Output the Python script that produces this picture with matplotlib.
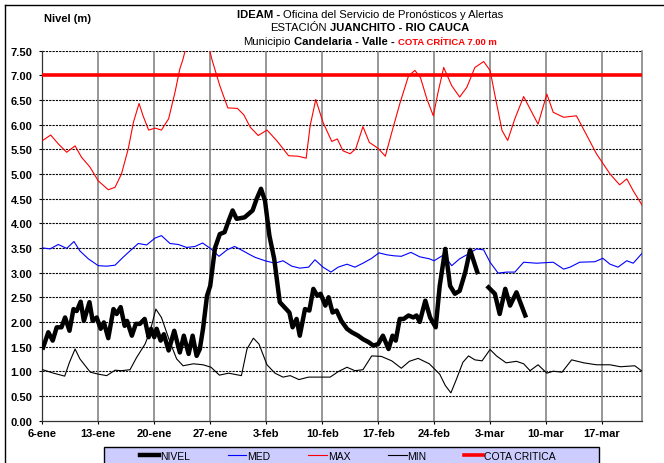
"""
Hydrograph of the Juanchito station (Rio Cauca) - IDEAM bulletin style.
Levels by day, counted from 6-ene.
"""
import matplotlib
matplotlib.use("Agg")

import matplotlib.pyplot as plt
from matplotlib.lines import Line2D
from matplotlib.patches import Rectangle

plt.rcParams["font.family"] = ["Liberation Sans", "DejaVu Sans"]

# ───────────────────────── Data (day 0 = 6-ene) ────────────────────────────
TICK_DAYS = [0, 7, 14, 21, 28, 35, 42, 49, 56, 63, 70]
TICK_LABELS = ["6-ene", "13-ene", "20-ene", "27-ene", "3-feb", "10-feb",
               "17-feb", "24-feb", "3-mar", "10-mar", "17-mar"]

NIVEL_A_DAY = [0.1, 0.75, 1.3, 1.8, 2.4, 2.85, 3.4, 3.9, 4.3, 4.8, 5.2, 5.9,
               6.3, 6.8, 7.3, 7.7, 8.25, 8.9, 9.3, 9.8, 10.3, 10.6, 11.2,
               11.7, 12.2, 12.8, 13.3, 13.6, 14.0, 14.3, 14.8, 15.2, 15.8,
               16.5, 17.2, 17.7, 18.3, 18.8, 19.3, 19.7, 20.1, 20.6, 21.0,
               21.6, 22.2, 22.8, 23.3, 23.8, 24.3, 25.3, 26.3, 26.8, 27.35,
               27.85, 28.4, 29.0, 29.7, 30.5, 30.9, 31.3, 31.8, 32.2, 32.85,
               33.4, 33.9, 34.4, 34.8, 35.4, 35.8, 36.3, 36.8, 37.4, 38.1,
               38.7, 39.5, 40.1, 40.8, 41.4, 42.0, 42.6, 43.3, 43.8, 44.2,
               44.7, 45.2, 45.8, 46.4, 46.8, 47.2, 47.9, 48.5, 49.2, 49.7,
               50.4, 51.0, 51.6, 52.2, 52.9, 53.5, 54.0, 54.4]
NIVEL_A_VAL = [1.48, 1.79, 1.62, 1.89, 1.89, 2.09, 1.82, 2.26, 2.22, 2.41,
               2.02, 2.40, 2.02, 2.09, 1.86, 1.99, 1.67, 2.26, 2.16, 2.30,
               1.92, 2.02, 1.72, 1.96, 1.96, 2.06, 1.69, 1.86, 1.69, 1.86,
               1.62, 1.75, 1.42, 1.82, 1.38, 1.72, 1.35, 1.72, 1.31, 1.45,
               1.86, 2.53, 2.73, 3.50, 3.78, 3.82, 4.05, 4.26, 4.09, 4.12,
               4.26, 4.49, 4.70, 4.46, 3.75, 3.28, 2.40, 2.26, 2.19, 1.89,
               2.06, 1.72, 2.26, 2.23, 2.67, 2.53, 2.57, 2.33, 2.50, 2.19,
               2.23, 2.02, 1.86, 1.79, 1.72, 1.65, 1.59, 1.52, 1.55, 1.72,
               1.45, 1.72, 1.62, 2.06, 2.06, 2.13, 2.09, 2.13, 2.00, 2.43,
               2.09, 1.89, 2.73, 3.48, 2.73, 2.57, 2.63, 3.01, 3.46, 3.21,
               3.01]
NIVEL_B_DAY = [55.8, 56.6, 57.2, 57.9, 58.5, 59.3, 60.4]
NIVEL_B_VAL = [2.70, 2.57, 2.16, 2.67, 2.33, 2.60, 2.13]

MED_DAY = [0.05, 0.97, 2.0, 3.05, 3.96, 4.7, 5.75, 7.0, 8.05, 9.1, 10.1,
           10.97, 12.0, 13.05, 14.1, 14.9, 15.97, 17.0, 18.05, 19.1, 20.05,
           21.1, 22.1, 23.1, 24.05, 25.0, 26.0, 26.6, 27.85, 29.1, 30.1,
           31.2, 32.2, 33.3, 34.1, 35.1, 36.1, 37.0, 38.1, 39.1, 40.1, 41.2,
           42.1, 43.1, 44.0, 44.9, 46.1, 47.2, 48.4, 49.0, 50.2, 51.2, 52.2,
           53.3, 54.3, 55.2, 56.0, 57.0, 58.1, 59.1, 60.2, 61.8, 63.9, 65.2,
           66.0, 67.2, 69.1, 70.1, 71.0, 72.0, 73.1, 73.9, 75.0]
MED_VAL = [3.50, 3.48, 3.57, 3.49, 3.63, 3.44, 3.28, 3.14, 3.13, 3.15, 3.31,
           3.44, 3.59, 3.56, 3.70, 3.75, 3.59, 3.57, 3.51, 3.53, 3.60, 3.48,
           3.33, 3.46, 3.53, 3.45, 3.36, 3.31, 3.24, 3.19, 3.24, 3.13, 3.09,
           3.11, 3.26, 3.11, 3.01, 3.11, 3.17, 3.11, 3.19, 3.29, 3.40, 3.36,
           3.34, 3.33, 3.41, 3.32, 3.28, 3.24, 3.36, 3.14, 3.28, 3.38, 3.48,
           3.46, 3.21, 2.99, 3.01, 3.01, 3.21, 3.19, 3.21, 3.07, 3.11, 3.21,
           3.22, 3.29, 3.17, 3.11, 3.24, 3.19, 3.39]

MAX_DAY = [0.05, 1.05, 2.0, 3.05, 4.1, 4.9, 5.96, 7.0, 8.25, 9.1, 9.9, 10.75,
           11.4, 12.1, 12.6, 13.3, 14.1, 14.9, 15.8, 16.6, 17.2, 17.6, 18.5,
           19.5, 20.5, 21.2, 22.2, 23.2, 24.4, 25.2, 26.0, 27.0, 28.1, 29.3,
           30.8, 32.0, 33.0, 33.5, 34.2, 35.1, 36.2, 36.9, 37.6, 38.5, 39.2,
           40.1, 40.9, 42.0, 42.9, 43.7, 44.7, 45.8, 46.6, 47.3, 48.1, 48.9,
           49.5, 50.2, 51.2, 52.2, 53.1, 54.1, 55.2, 56.0, 56.7, 57.5, 58.2,
           59.1, 60.2, 61.0, 62.0, 63.1, 63.9, 65.2, 66.8, 68.1, 69.3, 71.0,
           72.2, 73.1, 73.9, 75.0]
MAX_VAL = [5.68, 5.79, 5.61, 5.44, 5.57, 5.34, 5.14, 4.86, 4.68, 4.73, 5.00,
           5.51, 6.05, 6.43, 6.18, 5.89, 5.93, 5.89, 6.12, 6.66, 7.13, 7.33,
           7.90, 8.10, 7.80, 7.33, 6.79, 6.34, 6.33, 6.20, 5.95, 5.78, 5.89,
           5.68, 5.37, 5.36, 5.32, 5.98, 6.51, 6.05, 5.66, 5.71, 5.47, 5.41,
           5.51, 5.96, 5.64, 5.52, 5.36, 5.84, 6.42, 6.99, 7.10, 6.95, 6.52,
           6.18, 6.66, 7.16, 6.79, 6.56, 6.76, 7.16, 7.28, 7.10, 6.52, 5.88,
           5.68, 6.12, 6.57, 6.32, 6.01, 6.62, 6.25, 6.15, 6.18, 5.78, 5.41,
           5.00, 4.78, 4.90, 4.66, 4.37]

MIN_DAY = [0.05, 1.4, 2.8, 3.4, 4.1, 4.7, 6.0, 7.0, 8.05, 9.1, 9.9, 10.97,
           11.8, 12.85, 13.5, 14.2, 14.9, 15.97, 16.8, 17.6, 18.9, 20.1, 21.1,
           22.15, 23.3, 24.9, 25.6, 26.4, 27.1, 28.1, 29.1, 30.1, 31.0, 32.1,
           33.3, 34.7, 36.0, 37.0, 38.1, 39.1, 40.1, 41.2, 42.4, 43.7, 44.9,
           45.9, 47.0, 48.4, 49.7, 50.4, 51.1, 51.8, 52.6, 53.3, 54.1, 55.0,
           56.0, 56.8, 58.0, 59.3, 60.2, 61.0, 62.0, 63.1, 63.9, 65.0, 66.2,
           67.7, 69.3, 71.0, 72.3, 74.1, 75.0]
MIN_VAL = [1.03, 0.96, 0.90, 1.18, 1.45, 1.25, 0.98, 0.94, 0.91, 1.02, 1.01,
           1.03, 1.28, 1.55, 1.82, 2.26, 2.09, 1.59, 1.25, 1.11, 1.15, 1.13,
           1.08, 0.92, 0.96, 0.91, 1.45, 1.67, 1.55, 1.13, 0.96, 0.88, 0.91,
           0.83, 0.88, 0.88, 0.88, 0.99, 1.08, 1.01, 1.03, 1.31, 1.30, 1.21,
           1.06, 1.20, 1.26, 1.15, 0.94, 0.71, 0.56, 0.84, 1.18, 1.31, 1.23,
           1.21, 1.44, 1.31, 1.17, 1.20, 1.15, 1.01, 1.13, 0.96, 1.00, 0.98,
           1.23, 1.17, 1.13, 1.13, 1.09, 1.11, 1.00]

COTA_CRITICA = 7.00

# ───────────────────────── Layout (pixels) ─────────────────────────────────
W, H = 664, 464
AX_L, AX_R, AX_T, AX_B = 42.3, 642.0, 51.7, 421.5


def fx(px):
    return px / W


def fy(py):
    return 1 - py / H


def draw_runs(fig, x_center, y_base, runs):
    """Write a line made of several styled pieces, centred on x_center (px)."""
    texts = []
    for s, weight, color, fs in runs:
        texts.append(fig.text(0, fy(y_base), s, fontsize=fs, fontweight=weight,
                              color=color, ha="left", va="baseline"))
    r = fig.canvas.get_renderer()
    widths = [t.get_window_extent(r).width for t in texts]
    gaps = [0.28 * fs * fig.dpi / 72 for _, _, _, fs in runs[:-1]]
    total = sum(widths) + sum(gaps)
    x = x_center - total / 2
    for i, t in enumerate(texts):
        t.set_x(fx(x))
        x += widths[i] + (gaps[i] if i < len(gaps) else 0)


fig = plt.figure(figsize=(W / 100, H / 100), dpi=100)
ax = fig.add_axes([fx(AX_L), fy(AX_B), fx(AX_R - AX_L), (AX_B - AX_T) / H])

# grid
for v in [0.5 * i for i in range(1, 16)]:
    ax.axhline(v, color="black", lw=0.8, ls=(0, (2, 1)), zorder=1)
for d in TICK_DAYS[1:]:
    ax.axvline(d, color="#7a7a7a", lw=1.1, zorder=1)

l_max, = ax.plot(MAX_DAY, MAX_VAL, color="#ff0000", lw=0.8, zorder=3)
l_med, = ax.plot(MED_DAY, MED_VAL, color="#0000ff", lw=0.8, zorder=3)
l_min, = ax.plot(MIN_DAY, MIN_VAL, color="black", lw=0.8, zorder=3)
l_niv, = ax.plot(NIVEL_A_DAY, NIVEL_A_VAL, color="black", lw=3.2,
                 solid_joinstyle="round", zorder=4)
ax.plot(NIVEL_B_DAY, NIVEL_B_VAL, color="black", lw=3.2,
        solid_joinstyle="round", zorder=4)
l_cota = ax.axhline(COTA_CRITICA, color="#ff0000", lw=2.6, zorder=5)

ax.set_xlim(0, 75)
ax.set_ylim(0, 7.5)
ax.set_xticks(TICK_DAYS)
ax.set_xticklabels(TICK_LABELS)
ax.set_yticks([0.5 * i for i in range(16)])
ax.set_yticklabels([f"{0.5 * i:.2f}" for i in range(16)])
for lab in ax.get_xticklabels() + ax.get_yticklabels():
    lab.set_fontweight("bold")
ax.tick_params(axis="y", direction="out", length=2.2, width=0.8, pad=5,
               labelsize=8)
ax.tick_params(axis="x", direction="out", length=2.2, width=0.8, pad=3,
               labelsize=8)
ax.spines["top"].set_visible(False)
ax.spines["right"].set_color("#7a7a7a")
ax.spines["right"].set_linewidth(1.1)
for s in ("left", "bottom"):
    ax.spines[s].set_color("#333333")
    ax.spines[s].set_linewidth(0.9)

# figure frame (only top / left visible in the crop)
fig.add_artist(Line2D([fx(5), 1], [fy(6), fy(6)], color="black", lw=1.0))
fig.add_artist(Line2D([fx(5), fx(5)], [fy(6), 0], color="black", lw=1.0))

# titles
fig.text(fx(68), fy(19), "Nivel (m)", fontsize=8, fontweight="bold",
         ha="center", va="center")
draw_runs(fig, 370, 17.8, [("IDEAM -", "bold", "black", 8.1),
                           ("Oficina del Servicio de Pronósticos y Alertas",
                            "normal", "black", 8.1)])
draw_runs(fig, 370, 31.2, [("ESTACIÓN", "normal", "black", 8.1),
                           ("JUANCHITO - RIO CAUCA", "bold", "black", 8.1)])
draw_runs(fig, 370, 45.2, [("Municipio", "normal", "black", 8.1),
                           ("Candelaria - Valle -", "bold", "black", 8.1),
                           ("COTA CRÍTICA 7.00 m", "bold", "#ff0000", 6.8)])

# legend box + entries
fig.add_artist(Rectangle((fx(104), fy(470)), fx(599 - 104), (470 - 448) / H,
                         facecolor="#ccccff", edgecolor="black", lw=1.0))
fig.legend([l_niv, l_med, l_max, l_min, l_cota],
           ["NIVEL", "MED", "MAX", "MIN", "COTA CRITICA"],
           ncol=5, frameon=False, loc="center",
           bbox_to_anchor=(fx(348), fy(456.7)), fontsize=7.5,
           handlelength=1.8, handletextpad=0.1, columnspacing=3.6,
           borderpad=0.0)

fig.savefig("out.png", dpi=100)
